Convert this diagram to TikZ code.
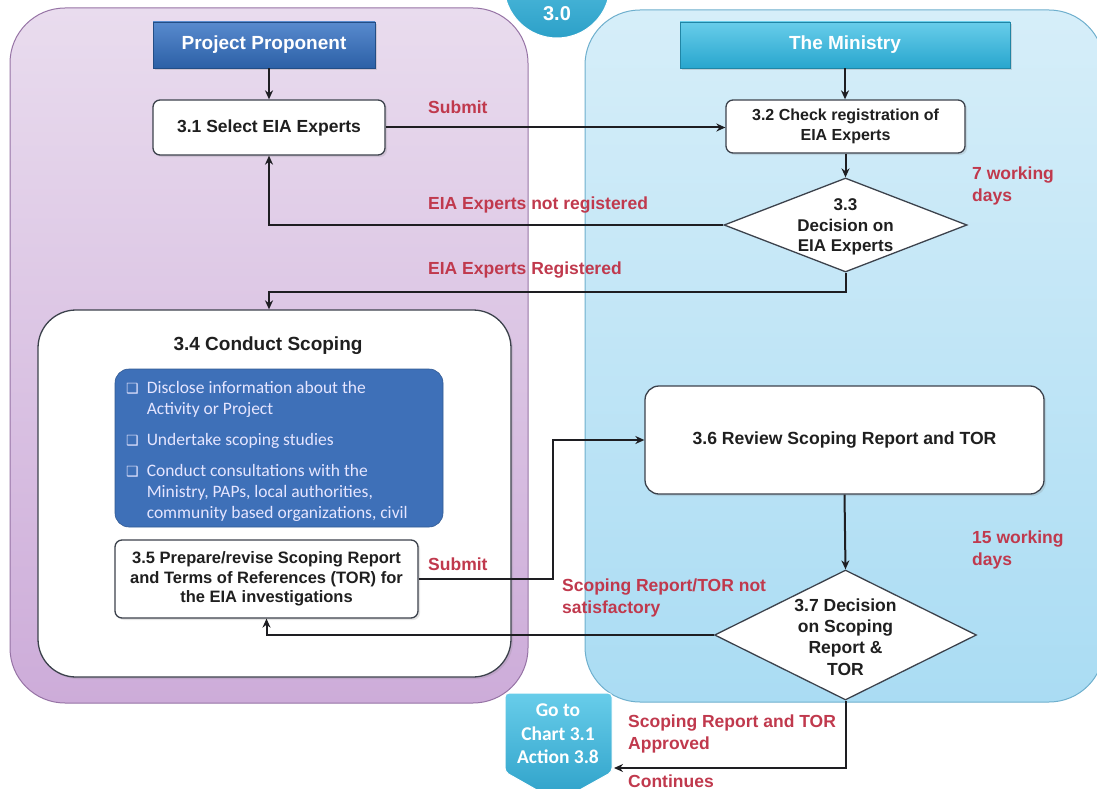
\documentclass[tikz,border=0pt]{standalone}
\usepackage{fontspec}
\setmainfont{Liberation Sans}
\newfontfamily\calfont{Carlito}
\newfontfamily\symfont{DejaVu Sans}
\usetikzlibrary{shapes.geometric,arrows.meta,calc,shadows}
\definecolor{redlab}{RGB}{192,57,77}
\definecolor{lanePtop}{RGB}{233,220,238}
\definecolor{lanePbot}{RGB}{205,172,217}
\definecolor{lanePline}{RGB}{150,115,165}
\definecolor{laneMtop}{RGB}{214,238,249}
\definecolor{laneMbot}{RGB}{170,220,243}
\definecolor{laneMline}{RGB}{110,175,205}
\definecolor{hPtop}{RGB}{88,138,206}
\definecolor{hPbot}{RGB}{44,96,166}
\definecolor{hMtop}{RGB}{104,205,234}
\definecolor{hMbot}{RGB}{40,166,206}
\definecolor{bluebox}{RGB}{62,112,184}
\definecolor{tealc}{RGB}{44,160,200}
\definecolor{boxline}{RGB}{60,66,76}
\definecolor{linec}{RGB}{30,30,34}
\tikzset{
  header/.style={draw=#1!80!black, line width=0.6pt, inner sep=0pt, text=white,
    font=\bfseries\fontsize{19}{22}\selectfont, drop shadow={opacity=0.25,shadow xshift=2pt,shadow yshift=-2pt}},
  wbox/.style={draw=boxline, fill=white, line width=1.3pt, rounded corners=7pt, inner sep=2pt,
    align=center, text=black!88, drop shadow={opacity=0.2,shadow xshift=2pt,shadow yshift=-2pt}},
  dia/.style={diamond, draw=boxline, fill=white, line width=1.3pt, inner sep=0pt},
  diatext/.style={align=center, text=black!88},
  redtext/.style={text=redlab, font=\bfseries\fontsize{17.5}{22}\selectfont, align=left, anchor=west, inner sep=0pt},
  arr/.style={draw=linec, line width=2pt, -{Stealth[length=9pt,width=8pt]}},
  bul/.style={},
}
\newcommand{\bx}{{\symfont\fontsize{14}{21}\selectfont ❑}}
\begin{document}
\begin{tikzpicture}[x=1pt,y=-1pt]
\useasboundingbox (0,0) rectangle (1097,789);
% lanes
\draw[draw=lanePline, line width=1pt, top color=lanePtop, bottom color=lanePbot, rounded corners=55pt]
  (10,8) rectangle (528,703);
\draw[draw=laneMline, line width=1pt, top color=laneMtop, bottom color=laneMbot, rounded corners=55pt]
  (585,10) rectangle (1104,702);
% 3.0 circle
\node[circle, minimum size=106pt, inner sep=0pt, draw=white, line width=1pt, top color=hMtop, bottom color=tealc] (c30) at (557,-15) {};
\node[text=white, font=\bfseries\fontsize{20}{22}\selectfont] (t30) at (557,14) {3.0};
% headers
\node[header=hPbot, top color=hPtop, bottom color=hPbot, minimum width=222pt, minimum height=46pt] (hPP) at (264,45) {Project Proponent};
\node[header=hMbot, top color=hMtop, bottom color=hMbot, minimum width=330pt, minimum height=46pt] (hMin) at (845,45) {The Ministry};
% boxes
\node[wbox, minimum width=232pt, minimum height=55pt, font=\bfseries\fontsize{17.5}{20}\selectfont] (b31) at (269,127.5) {3.1 Select EIA Experts};
\node[wbox, minimum width=239pt, minimum height=53pt, font=\bfseries\fontsize{16}{20}\selectfont] (b32) at (845.5,126.5) {3.2 Check registration of\\EIA Experts};
\node[dia, minimum width=243pt, minimum height=94pt] (d33) at (845.5,225) {};
\node[diatext, font=\bfseries\fontsize{17}{20.5}\selectfont] (t33) at (845.5,227) {3.3\\Decision on\\EIA Experts};
\node[wbox, rounded corners=38pt, minimum width=473pt, minimum height=367pt] (b34) at (274.5,493.5) {};
\node[font=\bfseries\fontsize{19}{22}\selectfont, text=black!88] (t34) at (268,346) {3.4 Conduct Scoping};
\node[fill=bluebox, draw=bluebox!80!black, line width=0.6pt, rounded corners=14pt, minimum width=328pt, minimum height=158pt,
      inner sep=0pt] (blue) at (279,448) {};
\node[anchor=west, inner sep=0pt, text=white!90!blue, font=\calfont\fontsize{17.5}{21}\selectfont] (blist) at (126,452)
  {\begin{tabular}{@{}l@{\hspace{8pt}}l@{}}
   \bx & Disclose information about the\\
    & Activity or Project\\[10pt]
   \bx & Undertake scoping studies\\[10pt]
   \bx & Conduct consultations with the\\
    & Ministry, PAPs, local authorities,\\
    & community based organizations, civil
   \end{tabular}};
\node[wbox, minimum width=303pt, minimum height=78pt, font=\bfseries\fontsize{16.5}{19.5}\selectfont] (b35) at (266.5,579)
  {3.5 Prepare/revise Scoping Report\\and Terms of References (TOR) for\\the EIA investigations};
\node[wbox, rounded corners=14pt, minimum width=399pt, minimum height=108pt, font=\bfseries\fontsize{17.6}{20}\selectfont] (b36) at (844.5,440)
  {3.6 Review Scoping Report and TOR};
\node[dia, minimum width=262pt, minimum height=130pt] (d37) at (845.5,635) {};
\node[diatext, font=\bfseries\fontsize{17.5}{21.3}\selectfont] (t37) at (845.5,637) {3.7 Decision\\on Scoping\\Report \&\\TOR};
% goto connector
\draw[draw=white, line width=1pt, top color=hMtop, bottom color=tealc, rounded corners=4pt]
  (558,802) -- (505,772) -- (505,693) -- (612,693) -- (612,772) -- cycle;
\node[text=white, align=center, font=\calfont\bfseries\fontsize{19.5}{23.5}\selectfont] (goto) at (558,734) {Go to\\Chart 3.1\\Action 3.8};
\coordinate (gotoIn) at (614,768);
% connectors
\draw[arr] (b31.north |- hPP.south) -- (b31.north);
\draw[arr] (hMin.south) -- (hMin.south |- b32.north);
\draw[arr] (b31.east) -- (b31.east -| b32.west);
\draw[arr] (b32.south) -- (d33.north);
\draw[arr] (d33.west) -| (b31.south);
\draw[arr] (d33.south) -- ++(0,19) -| (b34.north -| b31.south);
\draw[arr] (b35.east) -- ++(134,0) |- (b36.west);
\draw[arr] (b36.south) -- (d37.north);
\draw[arr] (d37.west) -| (b35.south);
\draw[arr] (d37.south) |- (gotoIn);
% labels
\node[redtext] (l1) at (428,107) {Submit};
\node[redtext] (l2) at (972,186) {7 working\\days};
\node[redtext] (l3) at (428,205) {EIA Experts not registered};
\node[redtext] (l4) at (428,270) {EIA Experts Registered};
\node[redtext] (l5) at (428,564) {Submit};
\node[redtext] (l6) at (972,550) {15 working\\days};
\node[redtext] (l7) at (562,598) {Scoping Report/TOR not\\satisfactory};
\node[redtext] (l8) at (628,734) {Scoping Report and TOR\\Approved};
\node[redtext] (l9) at (628,781) {Continues};
\end{tikzpicture}
\end{document}
